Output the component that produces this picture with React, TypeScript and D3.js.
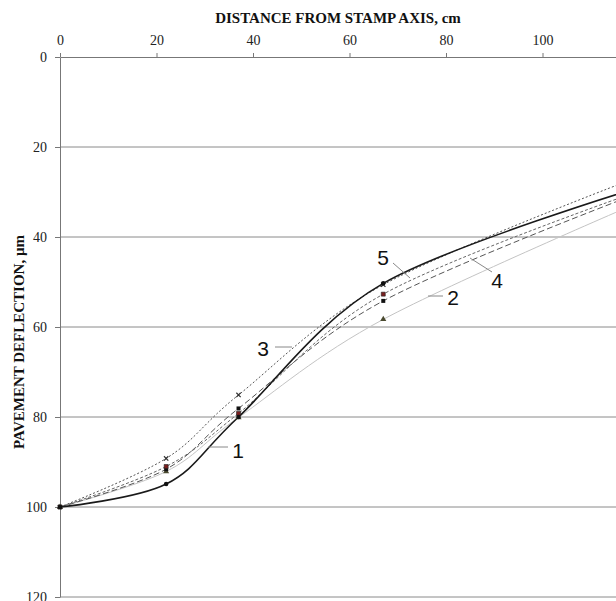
import React, { useEffect, useRef } from 'react';
import * as d3 from 'd3';

// distance from stamp axis, cm
const distances = [0, 22, 37, 67, 120];

// pavement deflection, µm, one array per curve
const curve1 = [100, 94.9, 80.0, 50.3, 29.0];
const curve2 = [100, 92.1, 80.1, 58.3, 32.3];
const curve3 = [100, 89.2, 75.1, 50.6, 26.6];
const curve4 = [100, 91.6, 78.1, 54.2, 30.2];
const curve5 = [100, 91.0, 79.2, 52.7, 29.8];

const xTicks = [0, 20, 40, 60, 80, 100];
const yTicks = [0, 20, 40, 60, 80, 100, 120];

const W = 616;
const H = 601;

const App = () => {
  const ref = useRef<SVGSVGElement>(null);

  useEffect(() => {
    const svg = d3.select(ref.current);
    svg.selectAll('*').remove();

    const x = d3.scaleLinear().domain([0, 120]).range([60, 639]);
    const y = d3.scaleLinear().domain([0, 120]).range([57, 597]);

    // gridlines
    svg.append('g')
      .selectAll('line')
      .data(yTicks.slice(1))
      .enter()
      .append('line')
      .attr('x1', x(0))
      .attr('x2', W)
      .attr('y1', d => y(d))
      .attr('y2', d => y(d))
      .attr('stroke', '#8a8a8a')
      .attr('stroke-width', 1);

    // top axis
    const xAxis = svg.append('g')
      .attr('transform', `translate(0,${y(0)})`)
      .call(d3.axisTop(x).tickValues(xTicks).tickSize(4).tickSizeOuter(0).tickPadding(8));
    xAxis.select('.domain').attr('stroke', '#777');
    xAxis.selectAll('line').attr('stroke', '#777');
    xAxis.selectAll('text')
      .attr('font-family', '"Liberation Serif", "Times New Roman", serif')
      .attr('font-size', 14)
      .attr('fill', '#222');

    // left axis
    const yAxis = svg.append('g')
      .attr('transform', `translate(${x(0)},0)`)
      .call(d3.axisLeft(y).tickValues(yTicks).tickSize(5).tickSizeOuter(0).tickPadding(8));
    yAxis.select('.domain').attr('stroke', '#777');
    yAxis.selectAll('line').attr('stroke', '#777');
    yAxis.selectAll('text')
      .attr('font-family', '"Liberation Serif", "Times New Roman", serif')
      .attr('font-size', 14)
      .attr('fill', '#222');

    // titles
    svg.append('text')
      .attr('x', 338)
      .attr('y', 23)
      .attr('text-anchor', 'middle')
      .attr('font-family', '"Liberation Serif", "Times New Roman", serif')
      .attr('font-weight', 'bold')
      .attr('font-size', 15)
      .attr('fill', '#111')
      .text('DISTANCE FROM STAMP AXIS, cm');

    svg.append('text')
      .attr('transform', 'translate(24,342) rotate(-90)')
      .attr('text-anchor', 'middle')
      .attr('font-family', '"Liberation Serif", "Times New Roman", serif')
      .attr('font-weight', 'bold')
      .attr('font-size', 15)
      .attr('fill', '#111')
      .text('PAVEMENT DEFLECTION, µm');

    const line = d3.line<number>()
      .x((_, i) => x(distances[i]))
      .y(d => y(d))
      .curve(d3.curveCardinal.tension(0));

    const series = [
      { values: curve2, stroke: '#c4c4c4', width: 1, dash: null, marker: 'triangle', fill: '#4a4a30' },
      { values: curve3, stroke: '#555', width: 1, dash: '2,2', marker: 'cross', fill: '#333' },
      { values: curve4, stroke: '#555', width: 1, dash: '6,3', marker: 'square', fill: '#111' },
      { values: curve5, stroke: '#666', width: 1, dash: '3,2', marker: 'square', fill: '#7a1f1f' },
      { values: curve1, stroke: '#1a1a1a', width: 1.6, dash: null, marker: 'circle', fill: '#111' },
    ];

    series.forEach(s => {
      svg.append('path')
        .datum(s.values)
        .attr('d', line)
        .attr('fill', 'none')
        .attr('stroke', s.stroke)
        .attr('stroke-width', s.width)
        .attr('stroke-dasharray', s.dash);
    });

    const symbolType: Record<string, d3.SymbolType> = {
      triangle: d3.symbolTriangle,
      cross: d3.symbolX,
      square: d3.symbolSquare,
      circle: d3.symbolCircle,
    };

    series.forEach(s => {
      const pts = s.values.slice(0, 4);
      const g = svg.append('g');
      g.selectAll('path')
        .data(pts)
        .enter()
        .append('path')
        .attr('transform', (d, i) => `translate(${x(distances[i])},${y(d)})`)
        .attr('d', d3.symbol().type(symbolType[s.marker]).size(s.marker === 'cross' ? 14 : 16)())
        .attr('fill', s.marker === 'cross' ? 'none' : s.fill)
        .attr('stroke', s.marker === 'cross' ? s.fill : (s.fill === '#7a1f1f' ? '#222' : 'none'))
        .attr('stroke-width', s.marker === 'cross' ? 1.2 : 0.6);
    });

    // curve labels with leader lines
    const labels = [
      { text: '1', tx: 238, ty: 458, x1: 208, y1: 447, x2: 228, y2: 447 },
      { text: '2', tx: 453, ty: 305, x1: 428, y1: 296, x2: 443, y2: 296 },
      { text: '3', tx: 263, ty: 356, x1: 275, y1: 347, x2: 292, y2: 347 },
      { text: '4', tx: 497, ty: 288, x1: 492, y1: 272, x2: 470, y2: 258 },
      { text: '5', tx: 383, ty: 265, x1: 393, y1: 263, x2: 410, y2: 278 },
    ];

    labels.forEach(l => {
      svg.append('line')
        .attr('x1', l.x1).attr('y1', l.y1)
        .attr('x2', l.x2).attr('y2', l.y2)
        .attr('stroke', '#888')
        .attr('stroke-width', 1);
      svg.append('text')
        .attr('x', l.tx)
        .attr('y', l.ty)
        .attr('text-anchor', 'middle')
        .attr('font-family', '"Liberation Sans", Arial, sans-serif')
        .attr('font-size', 21)
        .attr('fill', '#111')
        .text(l.text);
    });
  }, []);

  return (
    <svg
      ref={ref}
      width={W}
      height={H}
      style={{ position: 'absolute', left: 0, top: 0, background: '#fff' }}
    />
  );
};

export default App;
